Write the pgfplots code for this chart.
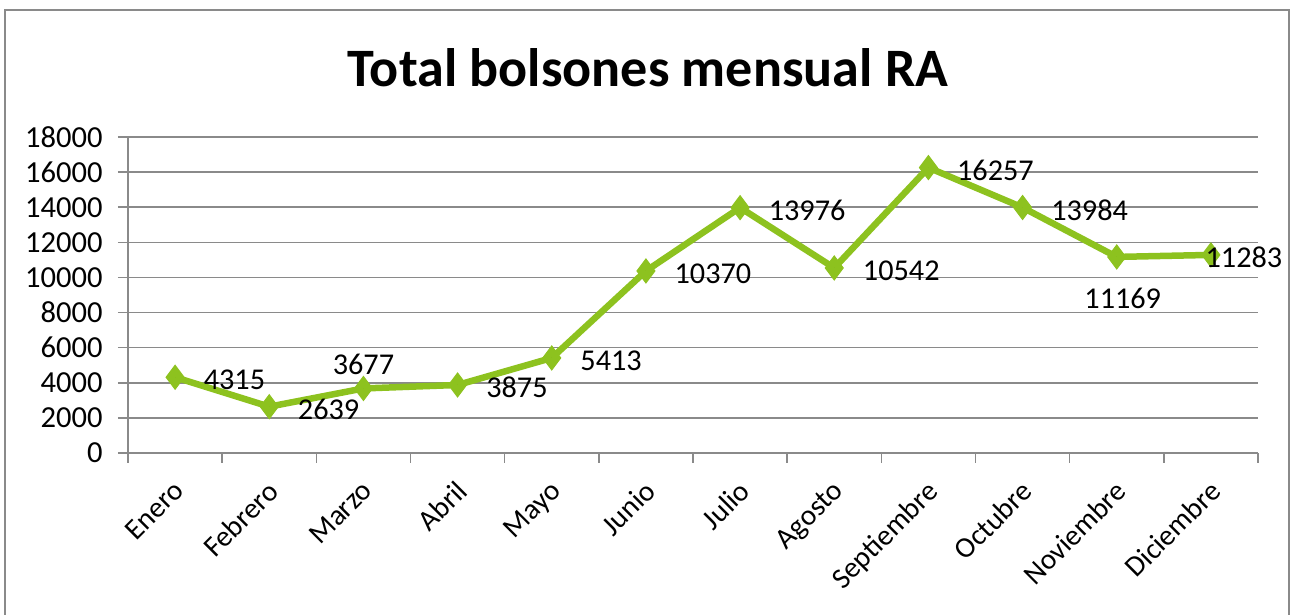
\documentclass[border=0pt]{standalone}
\usepackage{fontspec}
\setmainfont{Carlito}
\usepackage{pgfplots}
\usepackage{pgfplotstable}
\pgfplotsset{compat=1.18}
\definecolor{linegreen}{HTML}{8DC21F}
\definecolor{gridgray}{HTML}{8A8A8A}

\pgfplotsset{
  lbl/.style={draw=none, only marks, mark=*, mark size=0pt,
    forget plot, point meta=explicit symbolic,
    nodes near coords, nodes near coords style={inner sep=0pt, text=black,
      font=\fontsize{8.6}{10}\selectfont, #1}},
}

% x = month index
\pgfplotstableread{
x  y
0  4315
1  2639
2  3677
3  3875
4  5413
5  10370
6  13976
7  10542
8  16257
9  13984
10 11169
11 11283
}\bolsones

\begin{document}
\begin{tikzpicture}
\useasboundingbox (0,0) rectangle (12.95,6.15);
\draw[gridgray, line width=0.02cm] (0.05,-0.5) -- (0.05,6.05) -- (12.89,6.05) -- (12.89,-0.5);
\node[font=\fontsize{15.4}{18}\selectfont\bfseries, anchor=base] at (6.48,5.28) {Total bolsones mensual RA};
\begin{axis}[
  at={(1.28cm,1.62cm)}, anchor=south west,
  scale only axis, width=11.30cm, height=3.16cm,
  xmin=-0.5, xmax=11.5, ymin=0, ymax=18000,
  axis lines*=left,
  axis line style={gridgray, line width=0.015cm},
  xtick={0,...,11},
  xticklabels={Enero,Febrero,Marzo,Abril,Mayo,Junio,Julio,Agosto,Septiembre,Octubre,Noviembre,Diciembre},
  major x tick style={draw=none},
  minor xtick={-0.5,0.5,...,11.5},
  minor x tick style={gridgray, line width=0.015cm},
  ytick={0,2000,...,18000},
  scaled y ticks=false,
  yticklabel style={/pgf/number format/1000 sep={}, /pgf/number format/assume math mode=true,
    font=\fontsize{8.7}{10}\selectfont, xshift=-0.03cm},
  y tick style={gridgray, line width=0.015cm},
  tick align=outside, major tick length=0.1cm, minor tick length=0.1cm,
  ymajorgrids, grid style={gridgray, line width=0.015cm},
  tick label style={font=\fontsize{8.3}{10}\selectfont, text=black},
  xticklabel style={rotate=45, anchor=north east, inner sep=1pt, xshift=-0.092cm, yshift=-0.05cm},
  clip=false,
]
\addplot[linegreen, line width=0.065cm, mark=diamond*, mark size=0.12cm,
  mark options={fill=linegreen, draw=linegreen, line width=0.01cm}]
  table[x=x, y=y] {\bolsones};
% data labels: right of the point
\addplot[lbl={anchor=west, xshift=0.28cm, yshift=-0.025cm},
  skip coords between index={2}{3}, skip coords between index={10}{12}]
  table[x=x, y=y, meta=y] {\bolsones};
% above the point (Marzo)
\addplot[lbl={anchor=center, yshift=0.24cm},
  skip coords between index={0}{2}, skip coords between index={3}{12}]
  table[x=x, y=y, meta=y] {\bolsones};
% below the point (Noviembre)
\addplot[lbl={anchor=center, xshift=0.06cm, yshift=-0.41cm},
  skip coords between index={0}{10}, skip coords between index={11}{12}]
  table[x=x, y=y, meta=y] {\bolsones};
% on the point (Diciembre)
\addplot[lbl={anchor=west, xshift=-0.06cm, yshift=-0.02cm},
  skip coords between index={0}{11}]
  table[x=x, y=y, meta=y] {\bolsones};
\end{axis}
\end{tikzpicture}
\end{document}
